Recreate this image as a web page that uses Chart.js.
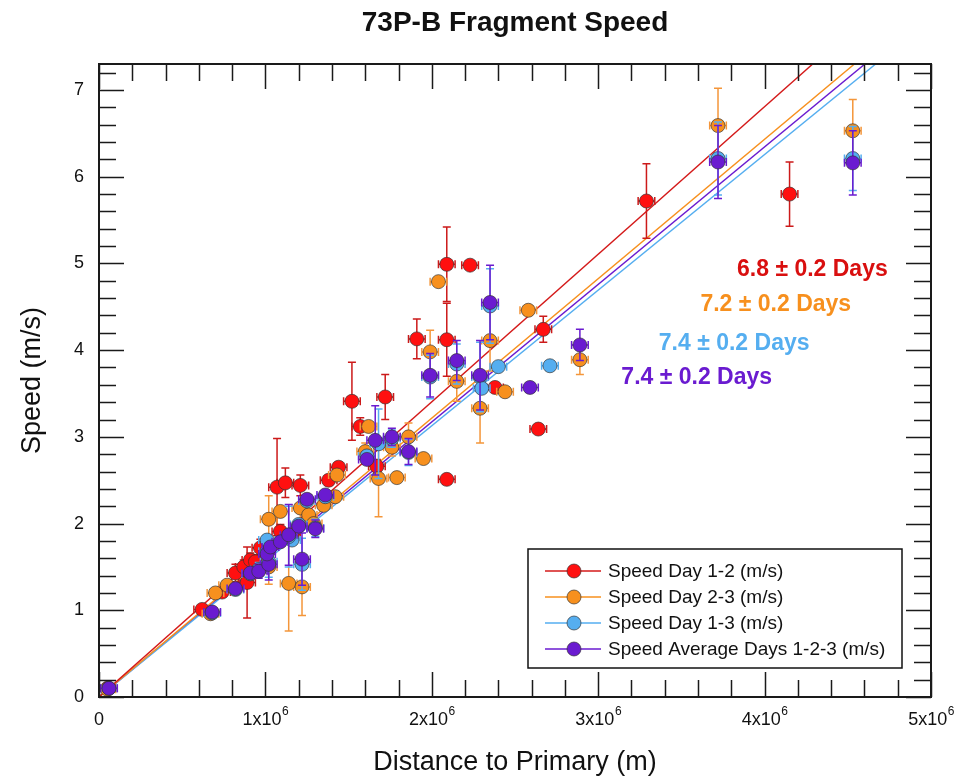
<!DOCTYPE html>
<html>
<head>
<meta charset="utf-8">
<script src="https://cdn.jsdelivr.net/npm/chart.js@4.4.1/dist/chart.umd.min.js"></script>
<style>
  body { margin: 0; background: #fff; }
  #wrap { width: 959px; height: 781px; }
</style>
</head>
<body>
<div id="wrap"><canvas id="myChart" width="959" height="781"></canvas></div>
<script>
// text
var chartTitle = '73P-B Fragment Speed';
var xTitle = 'Distance to Primary (m)';
var yTitle = 'Speed (m/s)';

// axis ticks
var xTickValues = [0, 1e6, 2e6, 3e6, 4e6, 5e6];
var xTickBase = ['0', '1x10', '2x10', '3x10', '4x10', '5x10'];
var xTickExp = ['', '6', '6', '6', '6', '6'];
var yTickValues = [0, 1, 2, 3, 4, 5, 6, 7];
var yTickLabels = ['0', '1', '2', '3', '4', '5', '6', '7'];

// horizontal error on distance (m), same for every point
var distErr = 0.05e6;

// Speed Day 1-2
var day12X = [0.05e6, 0.62e6, 0.74e6, 0.82e6, 0.87e6, 0.89e6, 0.91e6, 0.94e6, 0.97e6, 1.09e6, 1.16e6, 1.07e6, 1.12e6, 1.21e6, 1.38e6, 1.44e6, 1.67e6, 1.57e6, 1.52e6, 1.72e6, 1.91e6, 2.09e6, 2.09e6, 2.23e6, 2.38e6, 2.64e6, 2.09e6, 2.67e6, 3.29e6, 4.15e6];
var day12Y = [0.10, 1.01, 1.21, 1.43, 1.50, 1.32, 1.58, 1.56, 1.72, 1.91, 1.87, 2.42, 2.47, 2.44, 2.50, 2.65, 2.66, 3.12, 3.41, 3.46, 4.13, 4.12, 4.99, 4.98, 3.57, 3.09, 2.51, 4.24, 5.72, 5.80];
var day12Err = [0.02, 0.05, 0.05, 0.10, 0.08, 0.41, 0.08, 0.08, 0.10, 0.08, 0.08, 0.56, 0.17, 0.12, 0.06, 0.06, 0.08, 0.10, 0.45, 0.26, 0.23, 0.42, 0.43, 0, 0, 0, 0, 0.15, 0.43, 0.37];

// Speed Day 2-3
var day23X = [0.05e6, 0.67e6, 0.70e6, 0.77e6, 1.02e6, 1.02e6, 1.09e6, 1.14e6, 1.22e6, 1.21e6, 1.26e6, 1.29e6, 1.35e6, 1.42e6, 1.43e6, 1.60e6, 1.62e6, 1.68e6, 1.76e6, 1.79e6, 1.86e6, 1.95e6, 1.99e6, 2.04e6, 2.15e6, 2.29e6, 2.35e6, 2.44e6, 2.58e6, 2.89e6, 3.72e6, 4.53e6];
var day23Y = [0.09, 0.96, 1.20, 1.29, 1.50, 2.05, 2.14, 1.31, 1.27, 2.18, 2.10, 2.00, 2.21, 2.31, 2.56, 2.83, 3.12, 2.52, 2.88, 2.53, 3.00, 2.75, 3.98, 4.79, 3.64, 3.33, 4.11, 3.52, 4.46, 3.89, 6.59, 6.53];
var day23Err = [0.02, 0.05, 0.05, 0.05, 0.20, 0.27, 0.05, 0.55, 0.33, 0.05, 0.05, 0.10, 0.05, 0.05, 0.05, 0.10, 0.05, 0.44, 0.10, 0, 0.16, 0, 0.25, 0, 0.23, 0.40, 0.35, 0, 0, 0.17, 0.43, 0.36];

// Speed Day 1-3
var day13X = [0.06e6, 0.68e6, 0.82e6, 0.91e6, 0.96e6, 1.02e6, 1.01e6, 1.01e6, 1.16e6, 1.14e6, 1.20e6, 1.22e6, 1.25e6, 1.30e6, 1.36e6, 1.61e6, 1.68e6, 1.76e6, 1.86e6, 1.99e6, 2.15e6, 2.29e6, 2.30e6, 2.35e6, 2.40e6, 2.71e6, 3.72e6, 4.53e6];
var day13Y = [0.10, 0.97, 1.24, 1.42, 1.47, 1.56, 1.68, 1.81, 1.81, 1.85, 1.99, 1.53, 2.26, 1.95, 2.31, 2.78, 2.92, 2.98, 2.82, 3.69, 3.84, 3.69, 3.56, 4.51, 3.81, 3.82, 6.21, 6.21];
var day13Err = [0.02, 0.04, 0.05, 0.05, 0.08, 0.18, 0.05, 0.05, 0.05, 0.35, 0.05, 0.30, 0.05, 0.10, 0.05, 0.05, 0.40, 0.10, 0.15, 0.25, 0.23, 0.40, 0, 0.43, 0, 0, 0.42, 0.37];

// Speed Average Days 1-2-3
var avgX = [0.06e6, 0.68e6, 0.82e6, 0.91e6, 0.96e6, 1.02e6, 1.01e6, 1.03e6, 1.09e6, 1.14e6, 1.20e6, 1.22e6, 1.25e6, 1.30e6, 1.36e6, 1.61e6, 1.66e6, 1.76e6, 1.86e6, 1.99e6, 2.15e6, 2.29e6, 2.35e6, 2.59e6, 2.89e6, 3.72e6, 4.53e6];
var avgY = [0.10, 0.98, 1.25, 1.43, 1.45, 1.53, 1.65, 1.73, 1.79, 1.87, 1.97, 1.59, 2.28, 1.94, 2.33, 2.74, 2.96, 3.00, 2.83, 3.71, 3.88, 3.71, 4.55, 3.57, 4.06, 6.17, 6.16];
var avgErr = [0.02, 0.04, 0.05, 0.05, 0.08, 0.18, 0.05, 0.05, 0.05, 0.35, 0.05, 0.30, 0.05, 0.10, 0.05, 0.05, 0.40, 0.10, 0.15, 0.25, 0.23, 0.40, 0.43, 0, 0.18, 0.42, 0.37];

// linear fits: speed at 0 m and at 5x10^6 m
var fitX = [0, 5e6];
var fitDay12 = [0, 8.51];
var fitDay23 = [0, 8.04];
var fitDay13 = [0, 7.82];
var fitAvg = [0, 7.93];
var fitLabels = ['6.8 \u00b1 0.2 Days', '7.2 \u00b1 0.2 Days', '7.4 \u00b1 0.2 Days', '7.4 \u00b1 0.2 Days'];

var seriesNames = ['Speed Day 1-2 (m/s)', 'Speed Day 2-3 (m/s)', 'Speed Day 1-3 (m/s)', 'Speed Average Days 1-2-3 (m/s)'];
var fillColors = ['#ff1010', '#f7901e', '#55aef0', '#6a1bd0'];
var barColors = ['#cc1a1a', '#f4963a', '#55aef0', '#6a1bd0'];
var lineColors = ['#d41a1a', '#f7901e', '#55aef0', '#6a1bd0'];
var textColors = ['#d90f0f', '#f7901e', '#55aef0', '#6a1bd0'];

function pts(xs, ys) {
  return xs.map(function (x, i) { return { x: x, y: ys[i] }; });
}

function fitSet(ys, k) {
  return {
    type: 'line', data: pts(fitX, ys), borderColor: lineColors[k], borderWidth: 1.4,
    pointRadius: 0, fill: false, order: 10
  };
}

function pointSet(xs, ys, errs, k, order) {
  return {
    type: 'scatter', label: seriesNames[k], data: pts(xs, ys), errY: errs, colorIdx: k,
    backgroundColor: fillColors[k], borderColor: 'rgba(50,50,50,0.85)', borderWidth: 0.8,
    pointRadius: 7, pointHoverRadius: 7, order: order
  };
}

var FONT = '"Liberation Sans", Arial, Helvetica, sans-serif';

var errorBars = {
  id: 'errorBars',
  beforeDatasetDraw: function (chart, args) {
    var ds = chart.data.datasets[args.index];
    if (!ds.errY) return;
    var xs = chart.scales.x, ys = chart.scales.y, ctx = chart.ctx, a = chart.chartArea;
    ctx.save();
    ctx.beginPath();
    ctx.rect(a.left, a.top, a.right - a.left, a.bottom - a.top);
    ctx.clip();
    ctx.strokeStyle = barColors[ds.colorIdx];
    ctx.lineWidth = 1.5;
    ds.data.forEach(function (p, i) {
      var px = xs.getPixelForValue(p.x), py = ys.getPixelForValue(p.y);
      var e = ds.errY[i];
      ctx.beginPath();
      if (e > 0) {
        var t = ys.getPixelForValue(p.y + e), b = ys.getPixelForValue(p.y - e);
        ctx.moveTo(px, t); ctx.lineTo(px, b);
        ctx.moveTo(px - 4, t); ctx.lineTo(px + 4, t);
        ctx.moveTo(px - 4, b); ctx.lineTo(px + 4, b);
      }
      var l = xs.getPixelForValue(p.x - distErr), r = xs.getPixelForValue(p.x + distErr);
      ctx.moveTo(l, py); ctx.lineTo(r, py);
      ctx.moveTo(l, py - 4); ctx.lineTo(l, py + 4);
      ctx.moveTo(r, py - 4); ctx.lineTo(r, py + 4);
      ctx.stroke();
    });
    ctx.restore();
  }
};

var frame = {
  id: 'frame',
  afterDraw: function (chart) {
    var ctx = chart.ctx, a = chart.chartArea, xs = chart.scales.x, ys = chart.scales.y;
    ctx.save();
    ctx.strokeStyle = '#1a1a1a';
    // ticks
    ctx.lineWidth = 1.5;
    ctx.beginPath();
    for (var v = 0; v <= 5e6 + 1; v += 0.2e6) {
      var px = Math.round(xs.getPixelForValue(v)) + 0.5;
      var len = (Math.round(v / 0.2e6) % 5 === 0) ? 25 : 17;
      ctx.moveTo(px, a.bottom); ctx.lineTo(px, a.bottom - len);
      ctx.moveTo(px, a.top); ctx.lineTo(px, a.top + len);
    }
    for (var w = 0; w <= 7.3; w += 0.2) {
      var py = Math.round(ys.getPixelForValue(w)) + 0.5;
      var ln = (Math.round(w / 0.2) % 5 === 0) ? 25 : 17;
      ctx.moveTo(a.left, py); ctx.lineTo(a.left + ln, py);
      ctx.moveTo(a.right, py); ctx.lineTo(a.right - ln, py);
    }
    ctx.stroke();
    ctx.lineWidth = 2;
    ctx.strokeRect(a.left, a.top, a.right - a.left, a.bottom - a.top);

    // tick labels
    ctx.fillStyle = '#111';
    ctx.font = '18px ' + FONT;
    ctx.textAlign = 'right';
    ctx.textBaseline = 'middle';
    yTickValues.forEach(function (v, i) {
      ctx.fillText(yTickLabels[i], a.left - 15, ys.getPixelForValue(v));
    });
    ctx.textBaseline = 'alphabetic';
    xTickValues.forEach(function (v, i) {
      ctx.font = '18px ' + FONT;
      var w1 = ctx.measureText(xTickBase[i]).width;
      ctx.font = '12px ' + FONT;
      var w2 = xTickExp[i] ? ctx.measureText(xTickExp[i]).width : 0;
      var x0 = xs.getPixelForValue(v) - (w1 + w2) / 2;
      ctx.textAlign = 'left';
      ctx.font = '18px ' + FONT;
      ctx.fillText(xTickBase[i], x0, 725);
      if (xTickExp[i]) {
        ctx.font = '12px ' + FONT;
        ctx.fillText(xTickExp[i], x0 + w1 + 0.5, 715);
      }
    });

    // axis titles and chart title
    ctx.textAlign = 'center';
    ctx.textBaseline = 'middle';
    ctx.font = '27px ' + FONT;
    ctx.fillText(xTitle, (a.left + a.right) / 2, 763);
    ctx.save();
    ctx.translate(33, (a.top + a.bottom) / 2);
    ctx.rotate(-Math.PI / 2);
    ctx.fillText(yTitle, 0, 0);
    ctx.restore();
    ctx.font = 'bold 28px ' + FONT;
    ctx.fillText(chartTitle, (a.left + a.right) / 2, 23);

    // fit annotations, right aligned
    var ann = [[4.74e6, 4.925], [4.52e6, 4.53], [4.27e6, 4.08], [4.045e6, 3.68]];
    ctx.font = 'bold 23px ' + FONT;
    ctx.textAlign = 'right';
    ann.forEach(function (p, k) {
      ctx.fillStyle = textColors[k];
      ctx.fillText(fitLabels[k], xs.getPixelForValue(p[0]), ys.getPixelForValue(p[1]));
    });

    // legend box
    var bx = 528, by = 549, bw = 374, bh = 119;
    ctx.fillStyle = '#fff';
    ctx.fillRect(bx, by, bw, bh);
    ctx.lineWidth = 1.5;
    ctx.strokeStyle = '#111';
    ctx.strokeRect(bx, by, bw, bh);
    ctx.font = '19px ' + FONT;
    ctx.textAlign = 'left';
    ctx.textBaseline = 'middle';
    seriesNames.forEach(function (name, k) {
      var ry = 571 + k * 26;
      ctx.strokeStyle = lineColors[k];
      ctx.lineWidth = 1.5;
      ctx.beginPath(); ctx.moveTo(545, ry); ctx.lineTo(601, ry); ctx.stroke();
      ctx.beginPath(); ctx.arc(574, ry, 7, 0, Math.PI * 2);
      ctx.fillStyle = fillColors[k]; ctx.fill();
      ctx.strokeStyle = 'rgba(50,50,50,0.85)'; ctx.lineWidth = 0.8; ctx.stroke();
      ctx.fillStyle = '#111';
      ctx.fillText(name, 608, ry + 1);
    });
    ctx.restore();
  }
};

var ctx = document.getElementById('myChart').getContext('2d');
var myChart = new Chart(ctx, {
  type: 'scatter',
  data: {
    datasets: [
      fitSet(fitDay12, 0), fitSet(fitDay23, 1), fitSet(fitDay13, 2), fitSet(fitAvg, 3),
      pointSet(day12X, day12Y, day12Err, 0, 4),
      pointSet(day23X, day23Y, day23Err, 1, 3),
      pointSet(day13X, day13Y, day13Err, 2, 2),
      pointSet(avgX, avgY, avgErr, 3, 1)
    ]
  },
  options: {
    responsive: false,
    animation: false,
    events: [],
    layout: { padding: { left: 99, right: 28, top: 64, bottom: 84 } },
    plugins: { legend: { display: false }, tooltip: { enabled: false }, title: { display: false } },
    scales: {
      x: { type: 'linear', min: 0, max: 5e6, display: false },
      y: { type: 'linear', min: 0, max: 7.3, display: false }
    }
  },
  plugins: [errorBars, frame]
});
</script>
</body>
</html>
